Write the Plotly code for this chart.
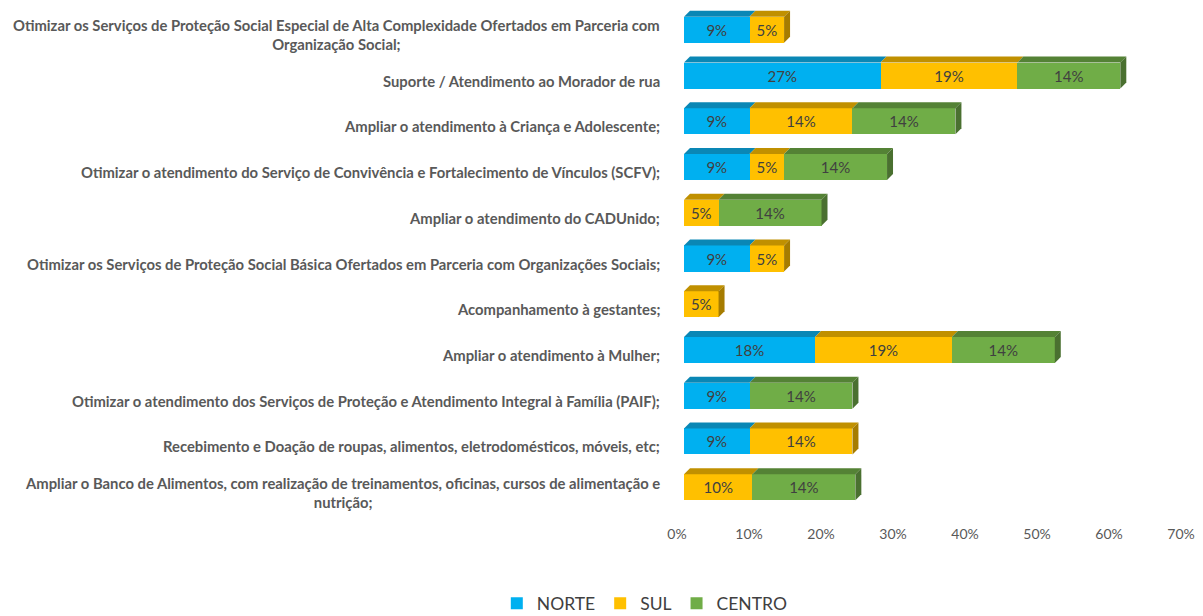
import plotly.graph_objects as go

categories = [
    "Otimizar os Serviços de Proteção Social Especial de Alta Complexidade Ofertados em Parceria com<br>Organização Social;",
    "Suporte / Atendimento ao Morador de rua",
    "Ampliar o atendimento à Criança e Adolescente;",
    "Otimizar o atendimento do Serviço de Convivência e Fortalecimento de Vínculos (SCFV);",
    "Ampliar o atendimento do CADUnido;",
    "Otimizar os Serviços de Proteção Social Básica Ofertados em Parceria com Organizações Sociais;",
    "Acompanhamento à gestantes;",
    "Ampliar o atendimento à Mulher;",
    "Otimizar o atendimento dos Serviços de Proteção e Atendimento Integral à Família (PAIF);",
    "Recebimento e Doação de roupas, alimentos, eletrodomésticos, móveis, etc;",
    "Ampliar o Banco de Alimentos, com realização de treinamentos, oficinas, cursos de alimentação e<br>nutrição;",
]
norte = [9.1, 27.3, 9.1, 9.1, None, 9.1, None, 18.2, 9.1, 9.1, None]
sul = [4.8, 19.0, 14.3, 4.8, 4.8, 4.8, 4.8, 19.0, None, 14.3, 9.5]
centro = [None, 14.3, 14.3, 14.3, 14.3, None, None, 14.3, 14.3, None, 14.3]
tick_vals = [0, 10, 20, 30, 40, 50, 60, 70]

series = [
    ("NORTE", norte, "#00B0F0", "#0A87B5", "#07769F"),
    ("SUL", sul, "#FFC000", "#C09000", "#A67C00"),
    ("CENTRO", centro, "#70AD47", "#548235", "#4A7030"),
]

FONT = "Lato"
fig = go.Figure()
for name, vals, front, top, side in series:
    fig.add_trace(go.Bar(
        y=list(range(len(categories))), x=vals, name=name, orientation="h",
        marker=dict(color=front, line=dict(width=0)),
        text=[None if v is None else f"{v:.0f}%" for v in vals],
        textposition="inside", insidetextanchor="middle",
        textfont=dict(family=FONT, size=15, color="#404040"),
        width=0.57, hoverinfo="skip",
    ))

# pseudo-3D faces
half_px = 13
depth_px = 6
dx = 0.83
shapes = []
for i in range(len(categories)):
    cum = 0.0
    last = None
    for name, vals, front, top, side in series:
        v = vals[i]
        if v is None:
            continue
        x0, x1 = cum, cum + v
        shapes.append(dict(
            type="path", xref="x", yref="y", ysizemode="pixel", yanchor=i,
            path=f"M {x0},{half_px} L {x1},{half_px} L {x1+dx},{half_px+depth_px} L {x0+dx},{half_px+depth_px} Z",
            fillcolor=top, line=dict(width=0), layer="above",
        ))
        cum = x1
        last = (x1, side)
    if last:
        x1, side = last
        shapes.append(dict(
            type="path", xref="x", yref="y", ysizemode="pixel", yanchor=i,
            path=f"M {x1},{half_px} L {x1+dx},{half_px+depth_px} L {x1+dx},{-half_px+depth_px} L {x1},{-half_px} Z",
            fillcolor=side, line=dict(width=0), layer="above",
        ))

annotations = []
for i, c in enumerate(categories):
    annotations.append(dict(
        x=0, xref="paper", y=i, yref="y", text=c, showarrow=False,
        xanchor="right", align="center", xshift=-22, yshift=-5,
        font=dict(family=FONT, size=14.8, color="#595959", weight="bold"),
    ))

fig.update_layout(
    width=1203, height=616,
    margin=dict(l=684, r=15, t=7, b=106, autoexpand=False),
    paper_bgcolor="white", plot_bgcolor="white",
    barmode="stack", bargap=0.43,
    shapes=shapes, annotations=annotations,
    showlegend=True,
    legend=dict(orientation="h", xref="container", yref="paper",
                x=0.536, xanchor="center", y=-0.150, yanchor="top",
                font=dict(family=FONT, size=17.5, color="#404040"),
                traceorder="normal"),
    xaxis=dict(range=[0, 70], tickvals=tick_vals,
               ticktext=[f"{t}%" for t in tick_vals],
               showgrid=False, zeroline=False, showline=False,
               tickfont=dict(family=FONT, size=14, color="#595959"),
               ticklabelshift=-7, ticklabelstandoff=14),
    yaxis=dict(range=[10.5, -0.5], showticklabels=False, showgrid=False,
               zeroline=False, showline=False),
)
fig.write_html("out.html", config={"displayModeBar": False},
               post_script="document.body.style.margin='0';")
